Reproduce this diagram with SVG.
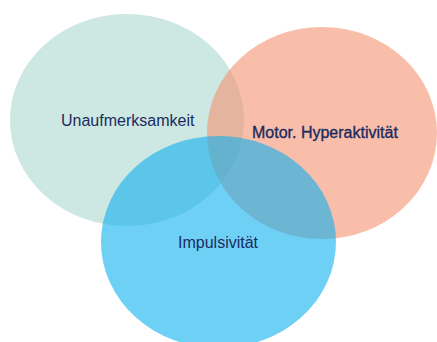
<svg xmlns="http://www.w3.org/2000/svg" width="437" height="342" viewBox="0 0 437 342">
  <style>
    .label { font-family: "Liberation Sans", Arial, sans-serif; font-size: 16px; fill: #1c2b5f; }
    .heavy { stroke: #1c2b5f; stroke-width: 0.35; }
  </style>
  <rect width="437" height="342" fill="#ffffff"/>
  <g id="unaufmerksamkeit">
    <ellipse cx="127" cy="120" rx="117" ry="106" fill="#cde7e2"/>
    <text class="label" x="61" y="126">Unaufmerksamkeit</text>
  </g>
  <g id="hyperaktivitaet">
    <ellipse cx="322" cy="133" rx="115" ry="106" fill="#f59371" fill-opacity="0.6"/>
    <text class="label heavy" x="252" y="138" font-size="15.6">Motor. Hyperaktivität</text>
  </g>
  <g id="impulsivitaet">
    <ellipse cx="218.5" cy="242" rx="117.5" ry="106" fill="#0fb1ee" fill-opacity="0.6"/>
    <text class="label" x="178" y="248">Impulsivität</text>
  </g>
  <g id="connectors"/>
</svg>
